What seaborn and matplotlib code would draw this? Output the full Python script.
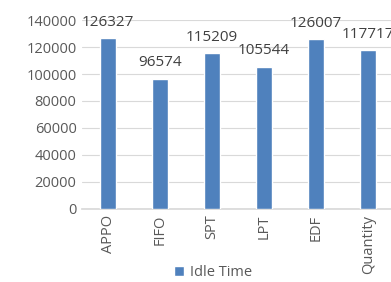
import matplotlib
matplotlib.use("Agg")
import matplotlib.pyplot as plt
import seaborn as sns
import pandas as pd

# Data
methods = ["APPO", "FIFO", "SPT", "LPT", "EDF", "Quantity"]
idle_time = [126327, 96574, 115209, 105544, 126007, 117717]

df = pd.DataFrame({"Method": methods, "Idle Time": idle_time})

sns.set_theme(style="white")
plt.rcParams["font.family"] = ["Open Sans", "DejaVu Sans"]

fig = plt.figure(figsize=(3.91, 2.82), dpi=100)
ax = fig.add_axes([0.21, 0.259, 0.798, 0.670])

bar_color = "#4F81BD"
sns.barplot(data=df, x="Method", y="Idle Time", color=bar_color, width=0.31,
            saturation=1, ax=ax, label="Idle Time", zorder=3)

ax.set_ylim(0, 140000)
ax.set_yticks(range(0, 140001, 20000))
ax.yaxis.grid(True, color="#D9D9D9", linewidth=0.8, zorder=0)
for s in ["top", "right", "left"]:
    ax.spines[s].set_visible(False)
ax.spines["bottom"].set_color("#D9D9D9")
ax.tick_params(axis="both", length=0, labelsize=10.5, labelcolor="#595959", pad=4)
ax.tick_params(axis="x", labelrotation=90)
ax.set_xlabel("")
ax.set_ylabel("")

for i, v in enumerate(idle_time):
    ax.annotate(str(v), (i, v), xytext=(0, 6), textcoords="offset points",
                ha="center", va="bottom", fontsize=11, color="#404040",
                annotation_clip=False)

ax.legend(loc="lower center", bbox_to_anchor=(0.42, -0.43), frameon=False,
          fontsize=10.5, handlelength=0.7, handleheight=0.7, handletextpad=0.4,
          labelcolor="#595959", borderpad=0.2)

fig.savefig("out.png", dpi=100)
